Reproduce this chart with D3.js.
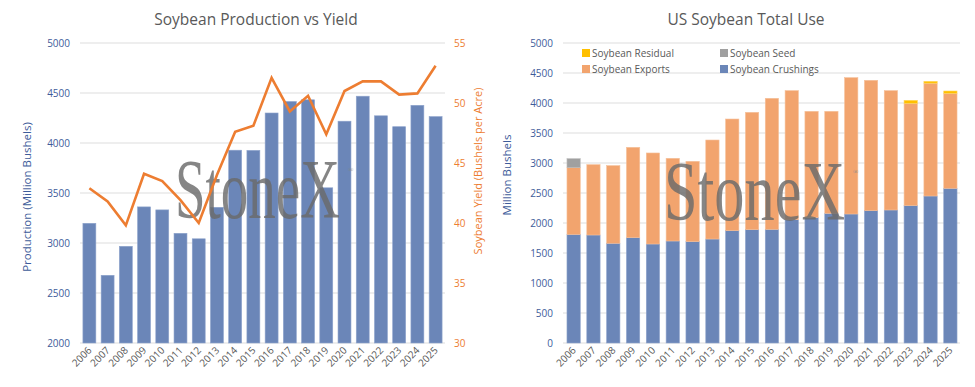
<!DOCTYPE html>
<html><head><meta charset="utf-8">
<script src="https://cdn.jsdelivr.net/npm/d3@7"></script>
<style>
html,body{margin:0;padding:0;background:#fff;}
svg{display:block;font-family:"Open Sans",sans-serif;}
</style></head>
<body><svg id="c" width="975" height="387"></svg>
<script>
const years = ["2006","2007","2008","2009","2010","2011","2012","2013","2014","2015","2016","2017","2018","2019","2020","2021","2022","2023","2024","2025"];
const production = [3197,2677,2967,3361,3331,3097,3042,3357,3928,3926,4300,4415,4432,3552,4218,4468,4272,4163,4377,4264];
const yieldVals = [42.9,41.8,39.8,44.1,43.5,41.9,40.0,44.0,47.6,48.1,52.1,49.3,50.6,47.4,51.0,51.8,51.8,50.7,50.8,53.1];
const crushings = [1808,1800,1662,1755,1650,1700,1689,1733,1872,1889,1894,2055,2089,2161,2150,2206,2217,2289,2450,2578];
const exportsVals = [1114,1172,1294,1506,1517,1378,1339,1650,1861,1955,2184,2151,1772,1700,2272,2172,1989,1705,1880,1583];
const seed = [150,0,0,0,0,0,0,0,0,0,0,0,0,0,0,0,0,0,0,0];
const residual = [0,0,0,0,0,0,0,0,0,0,0,0,0,0,0,0,0,50,31,39];
const prodTicks = [2000,2500,3000,3500,4000,4500,5000];
const yieldTicks = [30,35,40,45,50,55];
const useTicks = [0,500,1000,1500,2000,2500,3000,3500,4000,4500,5000];

const BLUE = "#6B86B8", ORANGE_LINE = "#ED7D31", EXP = "#F2A46E", SEED = "#A0A0A0", RES = "#FFC000";
const AXBLUE = "#3E5C9A", AXORANGE = "#ED7D31", TXT = "#595959", GRID = "#DEDEDE";

const svg = d3.select("#c");

function xLabels(g, x, y0){
  g.selectAll("text.xl").data(years).join("text")
    .attr("transform", d => `translate(${x(d)+x.bandwidth()/2+3},${y0+8}) rotate(-45)`)
    .attr("text-anchor","end").attr("font-size",10).attr("fill",TXT).text(d=>d);
}
function watermark(g, x0, x1, base){
  const t = g.append("text").attr("x",0).attr("y",0)
    .attr("font-family","'Liberation Serif','Times New Roman',serif")
    .attr("font-size",84).attr("fill","#6a6a6a").attr("fill-opacity",0.82).text("StoneX");
  const w = t.node().getComputedTextLength();
  t.attr("transform",`translate(${x0},${base}) scale(${(x1-x0)/w},1)`);
  g.append("text").attr("x",x1+8).attr("y",base-46).attr("font-size",7)
    .attr("font-family","'Liberation Serif',serif").attr("fill","#8a8a8a").text("®");
}

// ---------- Left chart ----------
{
  const g = svg.append("g");
  const x = d3.scaleBand().domain(years).range([80,445]).paddingInner(0.29).paddingOuter(0.16);
  const y = d3.scaleLinear().domain([2000,5000]).range([343,43]);
  const y2 = d3.scaleLinear().domain([30,55]).range([343,43]);
  g.selectAll("line.gr").data(prodTicks).join("line")
    .attr("x1",80).attr("x2",445).attr("y1",d=>y(d)).attr("y2",d=>y(d))
    .attr("stroke",GRID).attr("stroke-width",1.2);
  g.selectAll("rect.b").data(years).join("rect")
    .attr("x",d=>x(d)).attr("width",x.bandwidth())
    .attr("y",(d,i)=>y(production[i])).attr("height",(d,i)=>y(2000)-y(production[i]))
    .attr("fill",BLUE).attr("stroke","#8ea3cc").attr("stroke-width",0.6);
  const ax = g.append("g").attr("transform","translate(70,0)")
    .call(d3.axisLeft(y).tickValues(prodTicks).tickSize(0).tickPadding(0).tickFormat(d3.format("d")));
  ax.select(".domain").remove();
  ax.selectAll("text").attr("fill",AXBLUE).attr("font-size",10).attr("font-family","'Open Sans',sans-serif");
  const ax2 = g.append("g").attr("transform","translate(454,0)")
    .call(d3.axisRight(y2).tickValues(yieldTicks).tickSize(0).tickPadding(0));
  ax2.select(".domain").remove();
  ax2.selectAll("text").attr("fill",AXORANGE).attr("font-size",10).attr("font-family","'Open Sans',sans-serif");
  xLabels(g, x, 343);
  watermark(g, 175, 340, 218);
  g.append("path").datum(yieldVals)
    .attr("d", d3.line().x((d,i)=>x(years[i])+x.bandwidth()/2).y(d=>y2(d)))
    .attr("fill","none").attr("stroke",ORANGE_LINE).attr("stroke-width",2.6).attr("stroke-linejoin","miter");
  g.append("text").attr("x",256).attr("y",25).attr("text-anchor","middle")
    .attr("font-size",15.5).attr("fill",TXT).text("Soybean Production vs Yield");
  g.append("text").attr("transform","translate(31,197) rotate(-90)").attr("text-anchor","middle")
    .attr("font-size",11.5).attr("fill",AXBLUE).text("Production (Million Bushels)");
  g.append("text").attr("transform","translate(482,171) rotate(-90)").attr("text-anchor","middle")
    .attr("font-size",11).attr("fill",AXORANGE).text("Soybean Yield (Bushels per Acre)");
}

// ---------- Right chart ----------
{
  const g = svg.append("g");
  const x = d3.scaleBand().domain(years).range([564,960]).paddingInner(0.33).paddingOuter(0.15);
  const y = d3.scaleLinear().domain([0,5000]).range([343,43]);
  g.selectAll("line.gr").data(useTicks).join("line")
    .attr("x1",563).attr("x2",960).attr("y1",d=>y(d)).attr("y2",d=>y(d))
    .attr("stroke",GRID).attr("stroke-width",1.2);
  const rows = years.map((yr,i)=>({year:yr, crush:crushings[i], exp:exportsVals[i], seed:seed[i], res:residual[i]}));
  const keys = ["crush","exp","seed","res"];
  const colors = {crush:BLUE, exp:EXP, seed:SEED, res:RES};
  const strokes = {crush:"#8ea3cc", exp:"#f6c09a", seed:"#bdbdbd", res:"#ffd55c"};
  const stack = d3.stack().keys(keys)(rows);
  stack.forEach(s=>{
    g.selectAll("rect.s-"+s.key).data(s.filter(d=>d[1]-d[0]>0)).join("rect")
      .attr("x",d=>x(d.data.year)).attr("width",x.bandwidth())
      .attr("y",d=>y(d[1])).attr("height",d=>y(d[0])-y(d[1]))
      .attr("fill",colors[s.key]).attr("stroke",strokes[s.key]).attr("stroke-width",0.6);
  });
  const ax = g.append("g").attr("transform","translate(553,0)")
    .call(d3.axisLeft(y).tickValues(useTicks).tickSize(0).tickPadding(0).tickFormat(d3.format("d")));
  ax.select(".domain").remove();
  ax.selectAll("text").attr("fill",AXBLUE).attr("font-size",10).attr("font-family","'Open Sans',sans-serif");
  xLabels(g, x, 343);
  watermark(g, 664, 845, 220);
  g.append("text").attr("x",746).attr("y",25).attr("text-anchor","middle")
    .attr("font-size",15.5).attr("fill",TXT).text("US Soybean Total Use");
  g.append("text").attr("transform","translate(511,175) rotate(-90)").attr("text-anchor","middle")
    .attr("font-size",11.5).attr("fill",AXBLUE).text("Million Bushels");
  const legend = [
    {k:"res", label:"Soybean Residual", x:582, y:53},
    {k:"seed", label:"Soybean Seed", x:720, y:53},
    {k:"exp", label:"Soybean Exports", x:582, y:69},
    {k:"crush", label:"Soybean Crushings", x:720, y:69}
  ];
  const lg = g.selectAll("g.lg").data(legend).join("g").attr("transform",d=>`translate(${d.x},${d.y})`);
  lg.append("rect").attr("x",0).attr("y",-4).attr("width",8).attr("height",8).attr("fill",d=>colors[d.k]);
  lg.append("text").attr("x",10).attr("y",4).attr("font-size",10).attr("fill",TXT).text(d=>d.label);
}
</script></body></html>
